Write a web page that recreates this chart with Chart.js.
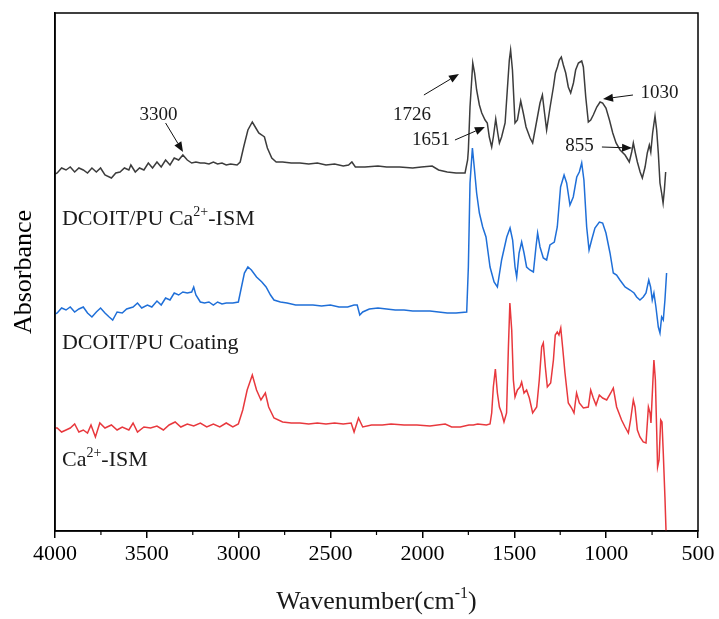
<!DOCTYPE html>
<html><head><meta charset="utf-8">
<script src="https://cdn.jsdelivr.net/npm/chart.js@4/dist/chart.umd.min.js"></script>
<style>html,body{margin:0;padding:0;background:#fff}</style>
</head><body>
<canvas id="c" width="719" height="619"></canvas>
<script>
// ---------- DATA (wavenumber cm-1, absorbance in arbitrary offset units) ----------
const seriesNames = ['DCOIT/PU Ca^{2+}-ISM', 'DCOIT/PU Coating', 'Ca^{2+}-ISM'];
const xTickValues = [4000, 3500, 3000, 2500, 2000, 1500, 1000, 500];
const minorTickValues = [3750, 3250, 2750, 2250, 1750, 1250, 750];

const ismCoatSpectrum = [
[4000,357],[3988,358],[3964,363],[3940,361],[3917,364],[3893,359],[3870,363],[3846,361],[3823,358],[3799,363],
[3775,359],[3752,363],[3728,356],[3693,353],[3669,358],[3646,359],[3622,363],[3598,361],[3587,366],[3563,359],
[3540,363],[3516,361],[3492,368],[3469,363],[3445,369],[3422,364],[3398,371],[3374,366],[3351,373],[3327,371],
[3304,376],[3280,371],[3256,368],[3233,369],[3209,368],[3186,368],[3162,367],[3138,369],[3115,367],[3091,368],
[3068,366],[3044,367],[3009,366],[2992,369],[2973,384],[2950,401],[2926,409],[2910,404],[2891,398],[2874,396],
[2860,394],[2844,383],[2820,373],[2796,369],[2761,369],[2714,368],[2667,368],[2619,367],[2572,368],[2525,366],
[2478,367],[2431,365],[2402,366],[2384,369],[2365,364],[2313,364],[2242,365],[2195,364],[2124,364],[2053,363],
[2006,364],[1947,365],[1912,361],[1865,359],[1817,358],[1768,358],[1754,371],[1750,381],[1741,424],[1726,468],
[1716,458],[1705,441],[1690,426],[1677,418],[1659,411],[1647,408],[1636,394],[1623,384],[1614,394],[1601,412],
[1590,398],[1581,388],[1569,394],[1550,408],[1538,441],[1527,471],[1520,481],[1510,461],[1496,408],[1483,411],
[1465,430],[1451,418],[1436,404],[1414,393],[1400,388],[1387,401],[1374,414],[1360,428],[1347,436],[1336,419],
[1324,401],[1305,424],[1287,444],[1276,458],[1265,464],[1255,471],[1244,474],[1233,466],[1220,458],[1206,444],
[1193,438],[1178,448],[1166,461],[1151,468],[1133,470],[1124,464],[1111,434],[1097,409],[1084,411],[1070,416],
[1051,424],[1033,429],[1019,428],[1001,423],[982,411],[964,398],[946,388],[924,381],[897,376],[874,369],
[861,379],[852,388],[841,378],[830,369],[815,359],[803,353],[788,364],[776,378],[765,386],[757,379],
[747,398],[734,415],[725,401],[716,378],[707,348],[698,338],[690,328],[683,341],[676,359]
];

const coatingSpectrum = [
[4000,217],[3988,218],[3964,223],[3940,221],[3917,224],[3893,219],[3870,222],[3846,224],[3823,218],[3799,214],
[3775,219],[3752,223],[3728,218],[3705,214],[3686,211],[3662,219],[3634,218],[3610,222],[3575,224],[3551,228],
[3528,223],[3497,226],[3473,224],[3445,230],[3422,226],[3398,233],[3374,231],[3351,238],[3327,236],[3304,239],
[3280,238],[3256,239],[3245,244],[3233,236],[3209,229],[3186,228],[3162,229],[3138,226],[3115,229],[3091,227],
[3068,228],[3032,228],[3002,229],[2985,244],[2969,258],[2950,264],[2931,261],[2903,254],[2874,249],[2851,244],
[2827,236],[2808,231],[2773,229],[2737,228],[2690,226],[2643,226],[2596,226],[2549,225],[2501,226],[2454,224],
[2407,224],[2372,226],[2355,226],[2341,216],[2325,219],[2289,222],[2242,223],[2195,222],[2148,221],[2100,221],
[2053,220],[2006,220],[1959,220],[1912,219],[1865,218],[1817,218],[1759,219],[1750,264],[1741,348],[1728,383],
[1718,364],[1705,338],[1690,318],[1672,304],[1654,294],[1632,264],[1610,249],[1592,244],[1569,271],[1541,294],
[1523,303],[1509,291],[1496,264],[1487,254],[1474,278],[1460,289],[1447,278],[1433,264],[1415,261],[1396,259],
[1382,284],[1373,298],[1360,284],[1342,273],[1324,271],[1306,286],[1282,289],[1266,304],[1248,344],[1229,356],
[1215,348],[1197,326],[1179,334],[1160,354],[1146,359],[1133,368],[1121,351],[1106,304],[1093,281],[1079,291],
[1061,303],[1037,309],[1019,308],[1001,298],[979,278],[961,258],[943,256],[925,251],[897,244],[870,241],
[848,238],[834,234],[816,231],[798,234],[783,238],[768,251],[758,244],[749,231],[740,238],[729,224],
[716,204],[707,198],[698,214],[689,211],[680,231],[671,258]
];

const ismSpectrum = [
[4000,103],[3988,103],[3964,99],[3940,101],[3917,103],[3893,107],[3870,99],[3846,101],[3823,98],[3804,106],
[3780,94],[3756,108],[3728,103],[3693,106],[3662,101],[3634,104],[3598,101],[3575,108],[3551,99],[3516,104],
[3480,103],[3445,105],[3410,101],[3379,106],[3346,109],[3315,104],[3280,107],[3245,105],[3209,108],[3174,104],
[3138,107],[3103,104],[3068,108],[3032,104],[3002,107],[2978,121],[2954,141],[2926,156],[2903,141],[2879,131],
[2855,138],[2837,124],[2808,113],[2761,109],[2714,108],[2667,108],[2619,107],[2572,108],[2525,107],[2478,108],
[2431,107],[2388,108],[2372,99],[2348,113],[2325,104],[2277,106],[2218,106],[2171,107],[2100,106],[2030,106],
[1959,105],[1876,107],[1841,104],[1794,104],[1747,106],[1723,106],[1699,107],[1652,106],[1632,107],[1623,118],
[1614,144],[1603,162],[1592,138],[1581,124],[1569,118],[1556,109],[1542,118],[1532,184],[1524,228],[1514,201],
[1505,151],[1496,134],[1483,141],[1469,144],[1460,149],[1447,138],[1433,141],[1418,133],[1400,118],[1378,124],
[1364,151],[1351,184],[1342,188],[1331,164],[1320,144],[1302,148],[1287,171],[1277,196],[1266,199],[1257,196],
[1247,203],[1237,184],[1224,158],[1206,128],[1188,123],[1175,118],[1161,138],[1146,128],[1124,123],[1097,124],
[1084,141],[1070,133],[1055,126],[1037,136],[1019,133],[997,131],[975,138],[961,143],[943,124],[916,111],
[897,104],[879,98],[867,111],[852,131],[843,124],[830,101],[816,94],[798,89],[783,88],[770,124],
[761,118],[756,108],[747,144],[740,171],[732,151],[725,101],[720,64],[712,71],[703,111],[696,109],
[689,78],[680,34],[674,0]
];

// peak annotations: label, label anchor (wavenumber, absorbance), arrow tail, arrow head
const peakLabels = ['3300', '1726', '1651', '1030', '855'];
const peakLabelAt = [[3437,417],[2057,417],[1953,392],[710,439],[1145,386]];
const peakArrowFrom = [[3398,408],[1992,436],[1823,391],[854,436],[1023,384]];
const peakArrowTo = [[3303,379],[1801,457],[1660,404],[1017,432],[859,383]];
// series label anchors (left edge wavenumber, absorbance)
const seriesLabelAt = [[3962,313],[3962,189],[3962,72]];

// ---------- DRAWING ----------
const FAM = '"Liberation Serif", "Times New Roman", serif';
const colors = ['#3c3c3c', '#1f6fd8', '#e8383d'];

function parseRich(s){
  const parts=[]; const re=/\^\{([^}]*)\}/g; let last=0, m;
  while((m=re.exec(s))){ if(m.index>last) parts.push({t:s.slice(last,m.index)}); parts.push({t:m[1],sup:true}); last=re.lastIndex; }
  if(last<s.length) parts.push({t:s.slice(last)});
  return parts;
}
function drawRich(ctx, s, x, y, size, align){
  const parts=parseRich(s); let w=0;
  parts.forEach(p=>{ p.size = p.sup? Math.round(size*0.62): size; ctx.font=p.size+'px '+FAM; p.w=ctx.measureText(p.t).width; w+=p.w; });
  let cx = align==='center' ? x-w/2 : x;
  const base = y + size*0.33;
  ctx.textAlign='left'; ctx.textBaseline='alphabetic';
  parts.forEach(p=>{ ctx.font=p.size+'px '+FAM; ctx.fillText(p.t, cx, p.sup ? base - size*0.42 : base); cx+=p.w; });
}
function arrow(ctx, x1,y1,x2,y2){
  const ang=Math.atan2(y2-y1,x2-x1), L=10, H=4;
  const bx=x2-L*Math.cos(ang), by=y2-L*Math.sin(ang);
  ctx.beginPath(); ctx.moveTo(x1,y1); ctx.lineTo(bx,by); ctx.stroke();
  ctx.beginPath(); ctx.moveTo(x2,y2);
  ctx.lineTo(bx+H*Math.sin(ang), by-H*Math.cos(ang));
  ctx.lineTo(bx-H*Math.sin(ang), by+H*Math.cos(ang));
  ctx.closePath(); ctx.fill();
}

const decor = {
  id:'decor',
  afterDraw(chart){
    const {ctx, chartArea:a, scales:{x:xs, y:ys}} = chart;
    ctx.save();
    ctx.strokeStyle='#000'; ctx.lineWidth=1.5;
    ctx.strokeRect(a.left, a.top, a.right-a.left, a.bottom-a.top);
    ctx.lineWidth=1.2;
    minorTickValues.forEach(v=>{ const px=xs.getPixelForValue(v); ctx.beginPath(); ctx.moveTo(px,a.bottom); ctx.lineTo(px,a.bottom+4); ctx.stroke(); });
    ctx.strokeStyle='#111'; ctx.fillStyle='#111'; ctx.lineWidth=1;
    peakArrowFrom.forEach((f,i)=>{
      const t=peakArrowTo[i];
      arrow(ctx, xs.getPixelForValue(f[0]), ys.getPixelForValue(f[1]), xs.getPixelForValue(t[0]), ys.getPixelForValue(t[1]));
    });
    ctx.fillStyle='#1a1a1a';
    peakLabels.forEach((s,i)=>{
      drawRich(ctx, s, xs.getPixelForValue(peakLabelAt[i][0]), ys.getPixelForValue(peakLabelAt[i][1]), 19, 'center');
    });
    seriesNames.forEach((s,i)=>{
      drawRich(ctx, s, xs.getPixelForValue(seriesLabelAt[i][0]), ys.getPixelForValue(seriesLabelAt[i][1]), 22, 'left');
    });
    drawRich(ctx, 'Wavenumber(cm^{-1})', (a.left+a.right)/2, chart.height-19, 26, 'center');
    ctx.restore();
  }
};

const toXY = arr => arr.map(([x,y])=>({x,y}));
new Chart(document.getElementById('c'), {
  type:'line',
  data:{ datasets:[
    {label:seriesNames[0], data:toXY(ismCoatSpectrum), borderColor:colors[0]},
    {label:seriesNames[1], data:toXY(coatingSpectrum), borderColor:colors[1]},
    {label:seriesNames[2], data:toXY(ismSpectrum), borderColor:colors[2]}
  ].map(d=>Object.assign(d,{borderWidth:1.5, pointRadius:0, tension:0, fill:false}))},
  options:{
    responsive:false, animation:false, devicePixelRatio:1,
    layout:{padding:{left:0,right:21,top:13,bottom:0}},
    plugins:{legend:{display:false}, tooltip:{enabled:false}},
    scales:{
      x:{type:'linear', reverse:true, min:500, max:4000,
        afterBuildTicks(s){ s.ticks = xTickValues.map(v=>({value:v})); },
        ticks:{autoSkip:false, maxRotation:0, color:'#000', font:{family:FAM, size:22}, padding:3,
               callback:(v)=>String(v)},
        grid:{drawOnChartArea:false, tickLength:7, color:'#000', lineWidth:1.5},
        border:{color:'#000', width:1.5},
        afterFit(s){ s.height = 88; }
      },
      y:{min:0, max:518,
        ticks:{display:false}, grid:{display:false},
        border:{color:'#000', width:1.5},
        title:{display:true, text:'Absorbance', color:'#000', font:{family:FAM, size:26}, padding:{top:9,bottom:0}},
        afterFit(s){ s.width = 55; }
      }
    }
  },
  plugins:[decor]
});
</script>
</body></html>
